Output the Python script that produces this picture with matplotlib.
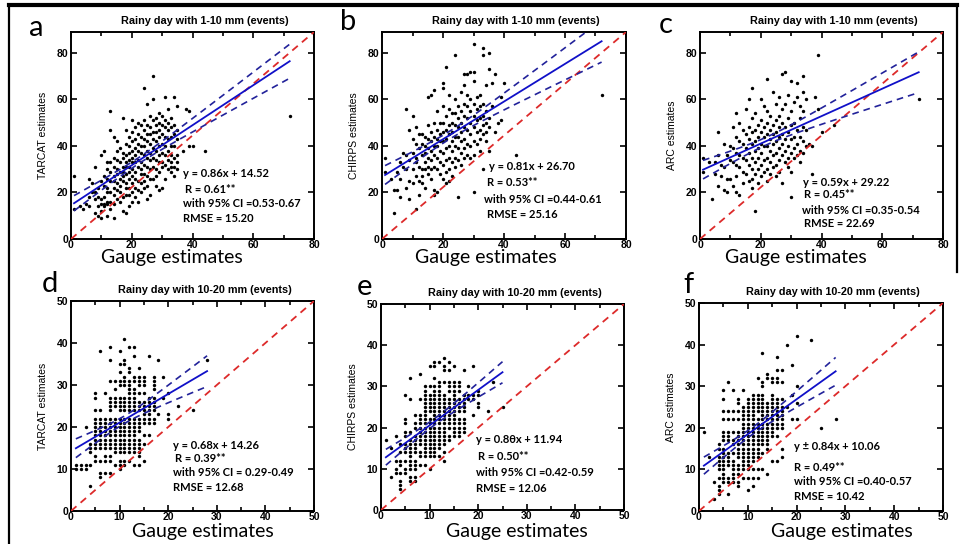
import numpy as np
import matplotlib
matplotlib.use("Agg")
import matplotlib.pyplot as plt
from matplotlib.ticker import MultipleLocator
from matplotlib.lines import Line2D
from matplotlib.font_manager import FontProperties

# ---------------------------------------------------------------------------
# Data: gauge value (x) -> satellite estimates (y) for each gauge value
# ---------------------------------------------------------------------------
tarcat_1_10 = {
    1: [27, 13], 3: [14], 4: [13], 5: [15], 6: [26, 18, 14], 7: [24, 20],
    8: [31, 20, 17, 11], 9: [22, 18, 14, 10], 10: [36, 25, 17, 15, 12, 9],
    11: [38, 27, 23, 18, 15, 14], 12: [33, 30, 26, 22, 20, 16, 15, 10],
    13: [55, 47, 33, 29, 25, 20, 16, 13], 14: [44, 35, 31, 27, 25, 22, 19, 15, 9],
    15: [42, 38, 34, 30, 28, 24, 21, 17], 16: [39, 33, 29, 26, 23, 20, 16],
    17: [52, 37, 35, 31, 29, 27, 25, 18, 12],
    18: [47, 41, 36, 33, 31, 28, 24, 22, 19, 11],
    19: [44, 40, 37, 34, 31, 29, 26, 22, 19, 14],
    20: [51, 46, 42, 38, 35, 33, 30, 27, 24, 20, 16],
    21: [48, 43, 39, 36, 33, 29, 26, 22, 18],
    22: [50, 45, 41, 38, 34, 31, 25, 21, 16],
    23: [49, 44, 40, 37, 33, 30, 28, 24, 20],
    24: [65, 51, 47, 43, 40, 36, 32, 28, 25, 22],
    25: [58, 49, 45, 42, 38, 35, 31, 27, 23, 17],
    26: [53, 48, 45, 41, 37, 34, 30, 26, 19],
    27: [70, 60, 51, 46, 43, 39, 35, 31, 26],
    28: [52, 49, 46, 42, 38, 34, 30, 27, 23],
    29: [54, 50, 47, 44, 40, 36, 33, 29, 21],
    30: [53, 49, 45, 41, 37, 33, 31, 22],
    31: [61, 51, 48, 44, 40, 36, 32, 26],
    32: [56, 50, 47, 43, 38, 34, 30],
    33: [52, 48, 44, 40, 36, 33, 31, 29],
    34: [61, 49, 45, 40, 35, 31, 27], 35: [57, 47, 43, 36, 33, 30],
    37: [38], 38: [56], 39: [55, 40], 40: [40], 44: [38], 72: [53],
}

chirps_1_10 = {
    1: [35, 29], 3: [26], 4: [11, 21], 5: [21, 29], 6: [18, 26, 33], 7: [31, 37],
    8: [56, 36, 30, 22], 9: [47, 34, 25, 17], 10: [53, 43, 37, 30, 24],
    11: [48, 41, 35, 33, 27, 13], 12: [45, 39, 31, 25, 19],
    13: [45, 41, 36, 30, 27, 24], 14: [44, 40, 37, 33, 30, 22],
    15: [61, 49, 43, 39, 35, 31, 28], 16: [62, 46, 42, 38, 34, 30, 26],
    17: [64, 50, 44, 40, 36, 31, 21, 19], 18: [55, 47, 43, 40, 35, 30, 20],
    19: [50, 45, 42, 38, 33, 28], 20: [67, 65, 57, 50, 46, 42, 37, 32, 26],
    21: [74, 53, 47, 43, 39, 34, 29, 24], 22: [62, 56, 49, 45, 40, 35, 30, 25],
    23: [54, 50, 46, 42, 38, 33, 27], 24: [79, 60, 54, 49, 44, 40, 35, 31],
    25: [57, 52, 48, 44, 39, 34, 18], 26: [63, 55, 50, 46, 42, 37, 32],
    27: [71, 66, 58, 53, 48, 43, 39, 35], 28: [71, 62, 57, 52, 47, 41, 36],
    29: [72, 60, 55, 50, 45, 40, 35], 30: [84, 72, 68, 58, 53, 48, 42, 36, 20],
    31: [61, 56, 51, 46, 41], 32: [62, 57, 52, 47, 43, 38],
    33: [82, 79, 58, 53, 49, 45, 30], 34: [66, 55, 50, 46, 42],
    35: [80, 73, 52, 48, 38], 36: [67, 57], 37: [71, 46], 38: [50],
    39: [61, 51], 40: [67], 44: [36], 72: [62],
}

arc_1_10 = {
    1: [35, 29], 3: [33], 4: [17], 5: [33, 28], 6: [46, 36, 23], 7: [32, 27],
    8: [41, 31, 21], 9: [36, 26, 20], 10: [40, 34, 26], 11: [48, 39, 33, 23],
    12: [54, 44, 37, 32, 27, 20], 13: [50, 42, 36, 31, 19],
    14: [47, 41, 35, 29, 24], 15: [56, 45, 39, 34, 28],
    16: [60, 48, 43, 37, 32, 25], 17: [65, 52, 46, 41, 35, 30, 26, 22],
    18: [54, 47, 42, 38, 33, 28, 12], 19: [49, 44, 39, 35, 30, 24],
    20: [60, 51, 46, 41, 37, 32, 27], 21: [57, 48, 44, 40, 34, 29],
    22: [69, 55, 50, 45, 40, 35, 30, 25], 23: [53, 47, 43, 38, 33, 28],
    24: [63, 49, 45, 41, 36, 31], 25: [58, 51, 46, 42, 37, 32, 27],
    26: [61, 53, 48, 44, 39, 34, 29], 27: [71, 56, 50, 45, 41, 36, 24],
    28: [72, 58, 48, 43, 38, 33], 29: [62, 52, 46, 40, 35, 31],
    30: [68, 55, 49, 43, 37, 29, 18], 31: [59, 50, 44, 39, 35],
    32: [67, 61, 47, 41, 36], 33: [57, 52, 44, 38, 33],
    34: [70, 63, 55, 48, 42, 37], 35: [60, 47, 40], 36: [41], 37: [28, 40],
    38: [61], 39: [79, 56], 40: [46], 44: [49], 72: [60],
}

tarcat_10_20 = {
    1: [11, 10], 2: [10, 11], 3: [20, 11, 10], 4: [16, 15, 14, 11, 6],
    5: [28, 27, 24, 22, 21, 20, 19, 18, 17, 16, 15, 13, 12],
    6: [38, 24, 22, 21, 20, 19, 18, 17, 16, 15, 12, 9, 8],
    7: [28, 22, 21, 20, 19, 18, 17, 16, 15, 13, 12, 9],
    8: [39, 36, 31, 27, 26, 25, 24, 22, 21, 20, 19, 18, 17, 16, 15, 13, 12, 9],
    9: [31, 29, 27, 26, 25, 22, 21, 20, 19, 18, 17, 16, 15, 14, 11],
    10: [38, 35, 33, 31, 30, 27, 26, 25, 24, 22, 21, 20, 19, 18, 17, 16, 15, 14, 12, 11, 10],
    11: [41, 36, 35, 32, 31, 30, 27, 26, 25, 24, 22, 21, 20, 19, 18, 17, 16, 15, 14, 12, 11],
    12: [39, 34, 33, 31, 30, 29, 28, 27, 26, 25, 24, 22, 21, 20, 19, 18, 17, 16, 15, 14, 12],
    13: [39, 37, 32, 31, 29, 28, 27, 26, 25, 24, 22, 21, 20, 19, 18, 17, 16, 15, 14, 11],
    14: [34, 32, 31, 30, 28, 26, 25, 24, 22, 21, 20, 19, 17, 16, 15, 14, 13, 11],
    15: [32, 31, 30, 28, 26, 25, 24, 23, 22, 21, 18, 16, 12],
    16: [37, 27, 26, 25, 24, 23, 22, 21, 18],
    17: [32, 31, 30, 29, 27, 26, 25, 24, 22, 21],
    18: [36, 23], 19: [32, 27], 20: [28, 23, 22], 22: [25], 25: [24], 28: [36],
}

chirps_10_20 = {
    1: [17], 2: [8, 15], 3: [18, 12, 10, 9], 4: [16, 14, 12, 11, 9, 7, 6, 5],
    5: [28, 22, 21, 19, 18, 16, 15, 14, 12, 10, 9],
    6: [32, 27, 19, 17, 16, 15, 14, 13, 12, 11, 10, 8, 7],
    7: [23, 21, 20, 18, 17, 16, 15, 14, 12, 11, 10, 8, 7],
    8: [33, 27, 23, 22, 21, 20, 19, 18, 17, 16, 14, 13, 11],
    9: [30, 29, 28, 27, 26, 25, 24, 23, 22, 21, 20, 19, 18, 17, 16, 15, 14, 13, 11],
    10: [35, 30, 28, 27, 26, 25, 24, 22, 21, 20, 19, 18, 17, 16, 15, 14, 13, 10],
    11: [36, 35, 32, 30, 29, 28, 27, 26, 25, 24, 23, 22, 21, 20, 19, 18, 17, 16, 15, 14, 13],
    12: [36, 31, 30, 29, 28, 27, 26, 25, 24, 23, 22, 21, 20, 19, 18, 17, 16, 15, 13],
    13: [37, 35, 34, 31, 28, 27, 26, 25, 24, 23, 22, 21, 20, 19, 18, 17, 16, 14, 12],
    14: [36, 34, 31, 30, 29, 27, 26, 25, 24, 23, 22, 21, 20, 18, 17],
    15: [35, 31, 30, 29, 28, 27, 26, 25, 24, 23, 22, 21, 20, 19, 18],
    16: [31, 30, 29, 27, 26, 25, 24, 22, 21, 20, 19, 18],
    17: [34, 28, 27, 26, 25, 24, 22, 21, 20, 19],
    18: [30, 28, 27], 19: [35, 28, 27, 23], 20: [29, 28, 26, 25],
    22: [24], 23: [31], 25: [25],
}

arc_10_20 = {
    1: [19], 2: [13], 3: [7, 3], 4: [16, 15, 13, 12, 11, 10, 8, 6, 5, 4],
    5: [29, 27, 24, 22, 19, 18, 17, 15, 14, 13, 12, 11, 10, 9, 8, 7],
    6: [31, 24, 22, 19, 18, 17, 14, 13, 12, 11, 8, 7, 4],
    7: [29, 24, 22, 19, 17, 16, 14, 12, 11, 10, 9, 8, 7],
    8: [27, 26, 24, 22, 19, 18, 17, 16, 15, 14, 13, 11, 10, 9, 7, 6],
    9: [29, 25, 24, 23, 22, 21, 20, 19, 18, 17, 16, 15, 14, 13, 12, 11, 10, 8],
    10: [27, 26, 25, 24, 23, 22, 21, 20, 19, 18, 17, 16, 15, 14, 13, 12, 11, 10, 8, 5],
    11: [28, 27, 26, 25, 24, 23, 22, 21, 20, 19, 18, 17, 16, 15, 14, 13, 12, 10, 8, 6],
    12: [32, 28, 27, 26, 25, 24, 22, 21, 20, 19, 18, 17, 16, 15, 14, 13, 10, 8],
    13: [38, 31, 30, 28, 27, 26, 25, 24, 23, 22, 21, 20, 19, 18, 17, 16, 14, 10],
    14: [33, 32, 26, 25, 24, 23, 22, 21, 20, 19, 18, 17, 16, 15, 9],
    15: [32, 31, 28, 27, 26, 25, 24, 23, 22, 21, 20, 19, 18, 12],
    16: [37, 34, 32, 31, 27, 26, 25, 24, 23, 22, 21, 20, 18, 12],
    17: [34, 31, 27, 25, 24, 23, 22, 21, 20, 15, 13],
    18: [40, 25], 19: [35, 28, 22], 20: [42, 30, 26, 22], 23: [41],
    25: [20], 28: [22],
}

# Regression statistics printed on each panel
slopes = [0.86, 0.81, 0.59, 0.68, 0.86, 0.84]
intercepts = [14.52, 26.70, 29.22, 14.26, 11.94, 10.06]
eq_texts = ["y = 0.86x + 14.52", "y = 0.81x + 26.70", "y = 0.59x + 29.22",
            "y = 0.68x + 14.26", "y = 0.8\u03b8x + 11.94", "y \u00b1 0.84x + 10.06"]
r_values = ["0.61", "0.53", "0.45", "0.39", "0.50", "0.49"]
ci_texts = ["=0.53-0.67", "=0.44-0.61", "=0.35-0.54", "= 0.29-0.49", "=0.42-0.59", "=0.40-0.57"]
rmse_values = ["15.20", "25.16", "22.69", "12.68", "12.06", "10.42"]

products = ["TARCAT", "CHIRPS", "ARC", "TARCAT", "CHIRPS", "ARC"]
titles = ["Rainy day with 1-10 mm (events)"] * 3 + ["Rainy day with 10-20 mm (events)"] * 3
letters = ["a", "b", "c", "d", "e", "f"]
datasets = [tarcat_1_10, chirps_1_10, arc_1_10, tarcat_10_20, chirps_10_20, arc_10_20]

# ---------------------------------------------------------------------------
# Layout (pixel boxes: left, top, right, bottom)
# ---------------------------------------------------------------------------
W, H = 961, 544
fig = plt.figure(figsize=(W / 100, H / 100), dpi=100)

boxes = [(71, 32, 314, 239), (382, 32, 626, 239), (700, 32, 943, 239),
         (71, 301, 314, 511), (381, 304, 624, 510), (699, 303, 943, 511)]
letter_pos = [(36, 28), (348, 22), (666, 25), (50, 284), (365, 287), (688, 285)]
xlabel_pos = [(172, 258), (486, 258), (796, 258), (203, 532), (517, 532), (842, 532)]
text_pos = [
    [(0.46, 0.315), (0.47, 0.24), (0.46, 0.17), (0.46, 0.10)],
    [(0.44, 0.35), (0.43, 0.275), (0.42, 0.19), (0.43, 0.12)],
    [(0.425, 0.275), (0.43, 0.215), (0.42, 0.14), (0.43, 0.075)],
    [(0.42, 0.31), (0.43, 0.25), (0.42, 0.185), (0.42, 0.11)],
    [(0.39, 0.34), (0.40, 0.26), (0.39, 0.18), (0.39, 0.105)],
    [(0.39, 0.31), (0.39, 0.21), (0.39, 0.14), (0.39, 0.07)],
]

BLUE = "#1010c8"
NAVY = "#22229a"
RED = "#dd2a2a"
tick_fp = FontProperties(family="Liberation Sans", weight="bold", size=7.5)

for i in range(6):
    l, t, r, b = boxes[i]
    ax = fig.add_axes([l / W, 1 - b / H, (r - l) / W, (b - t) / H])
    cols = datasets[i]
    x = np.array([k for k, ys in cols.items() for _ in ys], dtype=float)
    y = np.array([v for ys in cols.values() for v in ys], dtype=float)

    top_row = i < 3
    xmax = 80 if top_row else 50
    ymax = 89 if top_row else 50
    ax.set_xlim(0, xmax)
    ax.set_ylim(0, ymax)

    ax.scatter(x, y, s=6, color="black", linewidths=0, zorder=3)

    # 1:1 reference diagonal
    ax.plot([0, 1], [0, 1], transform=ax.transAxes, color=RED, lw=1.3,
            ls=(0, (4, 3)), zorder=4)

    # regression line and its 95% confidence band
    m, c0 = slopes[i], intercepts[i]
    xs = np.linspace(x.min(), x.max(), 200)
    fit = m * xs + c0
    resid = y - (m * x + c0)
    n = len(x)
    s = np.sqrt(np.sum(resid ** 2) / (n - 2))
    sxx = np.sum((x - x.mean()) ** 2)
    half = 1.97 * s * np.sqrt(1 / n + (xs - x.mean()) ** 2 / sxx)
    ax.plot(xs, fit, color=BLUE, lw=1.3, zorder=5)
    ax.plot(xs, fit + half, color=NAVY, lw=1.2, ls=(0, (4, 3)), zorder=5)
    ax.plot(xs, fit - half, color=NAVY, lw=1.2, ls=(0, (4, 3)), zorder=5)

    # axes styling
    for sp in ax.spines.values():
        sp.set_linewidth(1.4)
    if top_row:
        ax.xaxis.set_major_locator(MultipleLocator(20))
        ax.xaxis.set_minor_locator(MultipleLocator(10))
        ax.yaxis.set_major_locator(MultipleLocator(20))
    else:
        ax.xaxis.set_major_locator(MultipleLocator(10))
        ax.xaxis.set_minor_locator(MultipleLocator(5))
        ax.yaxis.set_major_locator(MultipleLocator(10))
    ax.tick_params(which="both", direction="in", top=True, right=True, width=1.2)
    ax.tick_params(axis="x", pad=0.5)
    ax.tick_params(axis="y", pad=2)
    ax.tick_params(which="major", length=4)
    ax.tick_params(which="minor", length=3)
    for lab in ax.get_xticklabels() + ax.get_yticklabels():
        lab.set_fontproperties(tick_fp)

    ax.set_ylabel(f"{products[i]} estimates", family="Liberation Sans",
                  size=7.5, labelpad=6)
    ax.set_title(titles[i], family="Liberation Sans", weight="bold",
                 size=7.8, pad=6, x=0.55)

    # statistics block
    lines = [eq_texts[i], f"R = {r_values[i]}**",
             f"with 95% CI {ci_texts[i]}", f"RMSE = {rmse_values[i]}"]
    for (tx, ty), txt in zip(text_pos[i], lines):
        ax.text(tx, ty, txt, transform=ax.transAxes, family="Lato",
                weight="bold", size=8, va="center", ha="left", zorder=6)

    # panel letter and x label
    lx, ly = letter_pos[i]
    fig.text(lx / W, 1 - ly / H, letters[i], family="Lato", size=21,
             ha="center", va="center")
    gx, gy = xlabel_pos[i]
    fig.text(gx / W, 1 - gy / H, "Gauge estimates", family="Lato", size=14,
             ha="center", va="center")

# outer frame
frame = dict(color="black", transform=fig.transFigure, clip_on=False)
fig.add_artist(Line2D([9 / W, 957 / W], [1 - 5 / H, 1 - 5 / H], lw=3.0, **frame))
fig.add_artist(Line2D([9 / W, 9 / W], [0, 1 - 5 / H], lw=1.6, **frame))
fig.add_artist(Line2D([957 / W, 957 / W], [1 - 272 / H, 1 - 5 / H], lw=1.6, **frame))

fig.savefig("out.png", dpi=100)
